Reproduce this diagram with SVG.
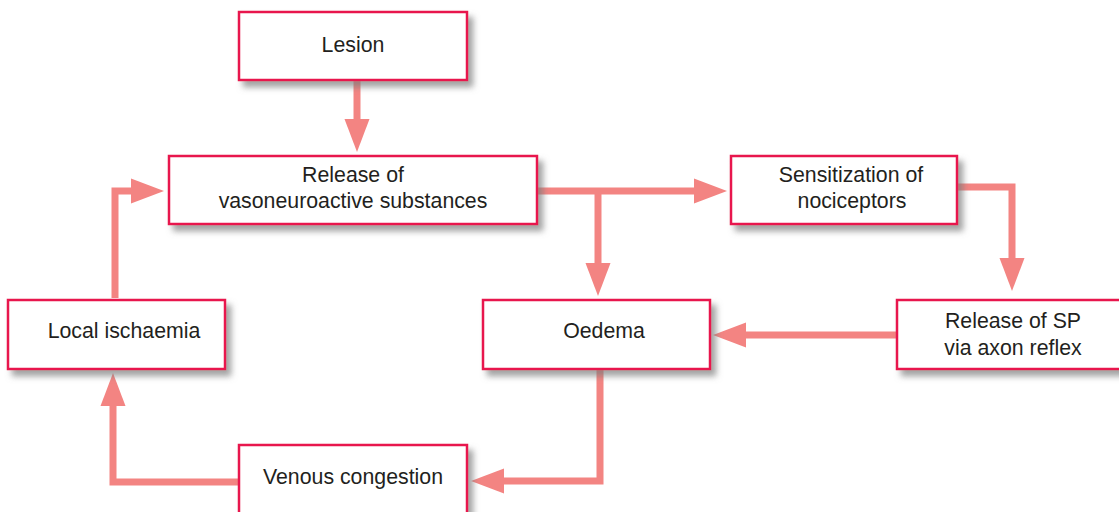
<svg xmlns="http://www.w3.org/2000/svg" width="1119" height="512" viewBox="0 0 1119 512">
<style>
.box{fill:#fff;stroke:#e8184d;stroke-width:2.5;filter:url(#sh)}
.t{font-family:"Liberation Sans",Arial,sans-serif;font-size:21.3px;fill:#231f20;text-anchor:middle}
.c{fill:none;stroke:#f38482;stroke-width:7;stroke-linejoin:miter;marker-end:url(#ah)}
</style>
<defs>
<filter id="sh" x="-10%" y="-10%" width="130%" height="140%">
<feDropShadow dx="5" dy="6" stdDeviation="3" flood-color="#7a7a7a" flood-opacity="0.7"/>
</filter>
<marker id="ah" viewBox="0 -13 34 26" markerWidth="34" markerHeight="26" refX="1" refY="0" orient="auto" markerUnits="userSpaceOnUse">
<path d="M0,-12.5 L33,0 L0,12.5 Z" fill="#f38482"/>
</marker>
</defs>
<rect width="1119" height="512" fill="#fff"/>
<g id="connectors">
<path class="c" d="M357,80 V120"/>
<path class="c" d="M537,191 H695"/>
<path class="c" d="M598,191 V264"/>
<path class="c" d="M957,187 H1012 V259"/>
<path class="c" d="M897,335 H745"/>
<path class="c" d="M600,369 V481 H503"/>
<path class="c" d="M239,482 H113 V405"/>
<path class="c" d="M115,298 V191 H132"/>
</g>
<g id="lesion"><rect class="box" x="239" y="12" width="228" height="68"/><text class="t" x="353" y="52">Lesion</text></g>
<g id="release"><rect class="box" x="169" y="156" width="368" height="68"/><text class="t" x="353" y="182">Release of</text><text class="t" x="353" y="208">vasoneuroactive substances</text></g>
<g id="sensitization"><rect class="box" x="731" y="156" width="226" height="68"/><text class="t" x="851" y="182">Sensitization of</text><text class="t" x="852" y="208">nociceptors</text></g>
<g id="oedema"><rect class="box" x="483" y="300" width="227" height="69"/><text class="t" x="604" y="338">Oedema</text></g>
<g id="releasesp"><rect class="box" x="897" y="300" width="226" height="69"/><text class="t" x="1013" y="328">Release of SP</text><text class="t" x="1013" y="355">via axon reflex</text></g>
<g id="ischaemia"><rect class="box" x="8" y="300" width="217" height="69"/><text class="t" x="124" y="338">Local ischaemia</text></g>
<g id="venous"><rect class="box" x="239" y="445" width="228" height="72"/><text class="t" x="353" y="484">Venous congestion</text></g>
</svg>
